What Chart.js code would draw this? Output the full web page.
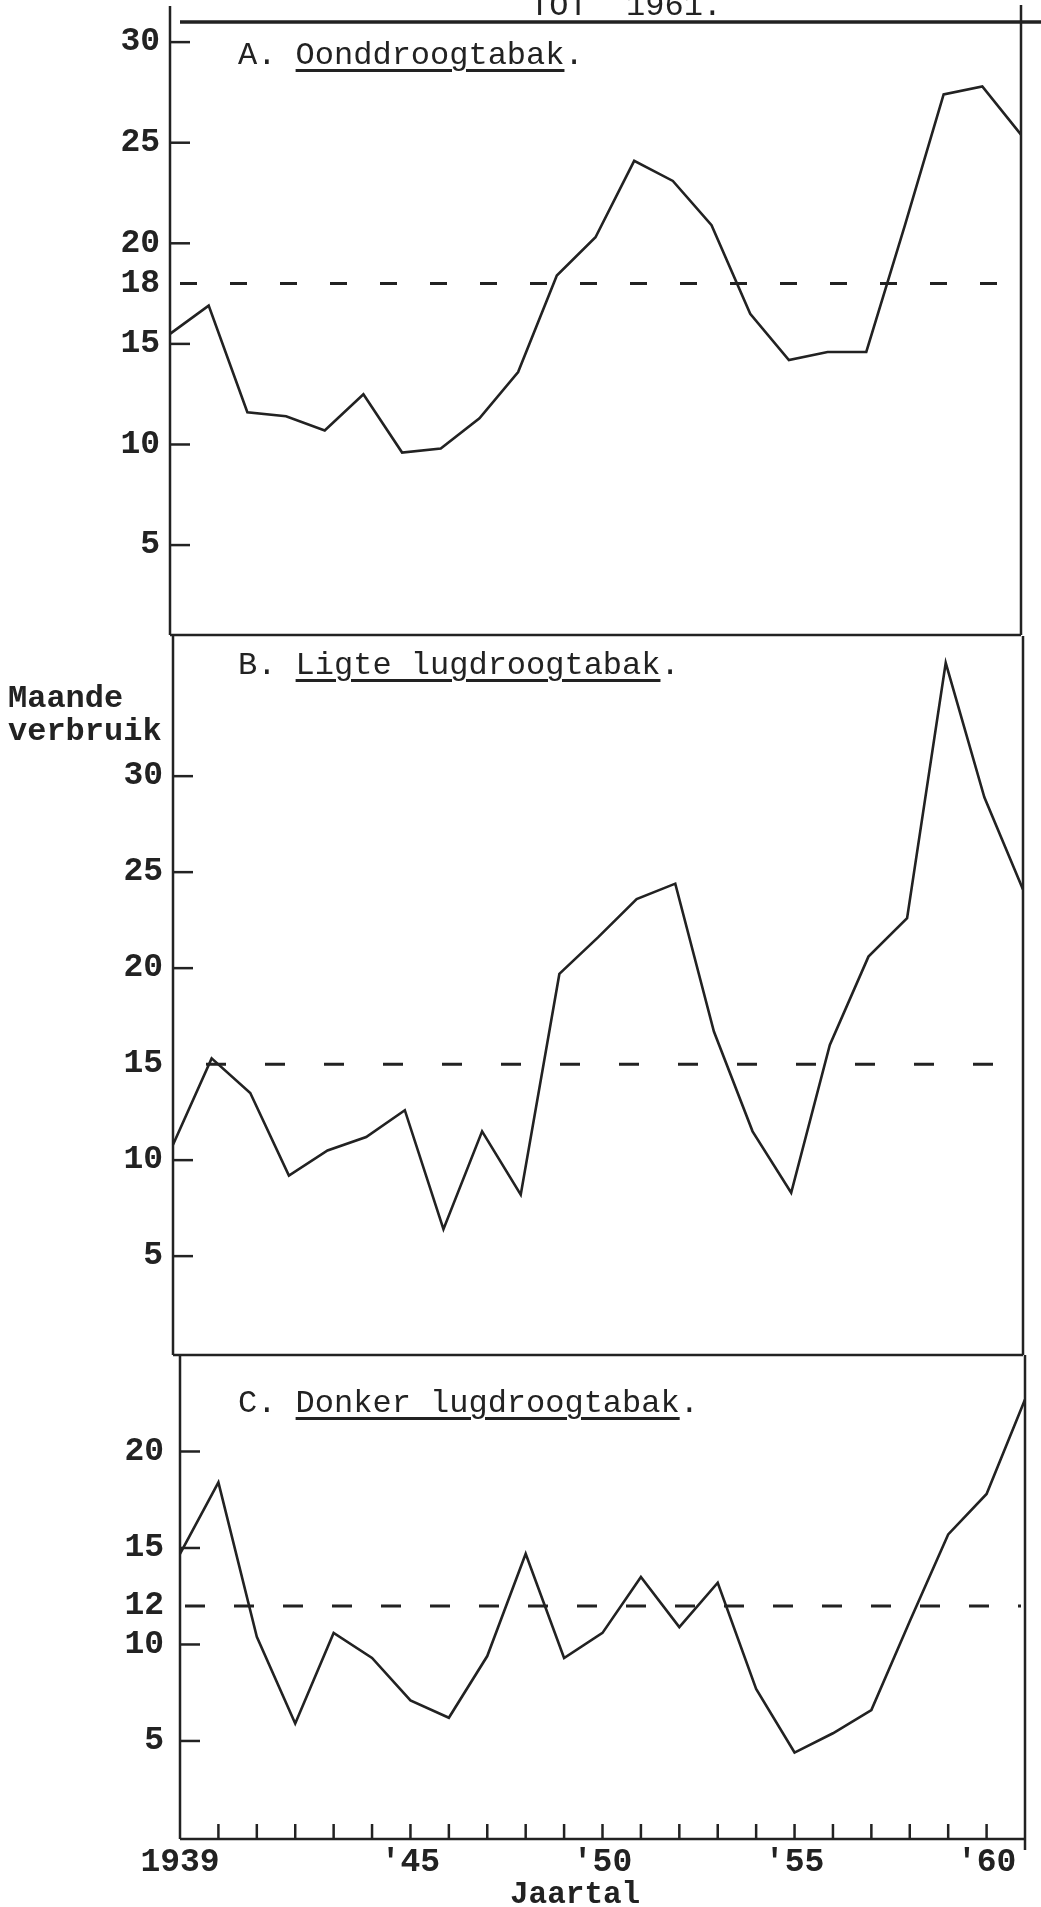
<!DOCTYPE html>
<html>
<head>
<meta charset="utf-8">
<script src="https://cdn.jsdelivr.net/npm/chart.js@4.4.1/dist/chart.umd.min.js"></script>
<style>
  html, body { margin: 0; padding: 0; background: #fff; }
  body { width: 1041px; height: 1907px; position: relative; overflow: hidden; font-family: "Liberation Mono", monospace; color: #222; }
  canvas { position: absolute; left: 0; }
  .txt { position: absolute; white-space: pre; font-size: 32px; line-height: 32px; }
  .txt u { text-decoration-thickness: 3px; text-underline-offset: 5px; }
  .bold { font-weight: bold; }
</style>
</head>
<body>
<canvas id="chartA" width="1041" height="650" style="top:0px"></canvas>
<canvas id="chartB" width="1041" height="750" style="top:620px"></canvas>
<canvas id="chartC" width="1041" height="567" style="top:1340px"></canvas>

<div class="txt" style="left:530px; top:-9px;">TOT  1961.</div>
<div class="txt" style="left:238px; top:40px;">A. <u>Oonddroogtabak</u>.</div>
<div class="txt" style="left:238px; top:650px;">B. <u>Ligte lugdroogtabak</u>.</div>
<div class="txt" style="left:238px; top:1388px;">C. <u>Donker lugdroogtabak</u>.</div>
<div class="txt bold" style="left:8px; top:682px; line-height:33px;">Maande
verbruik</div>
<div class="txt bold" style="left:510px; top:1879px; font-size:31px; line-height:31px;">Jaartal</div>

<script>
// Maandelikse verbruik per tabaksoort, 1939-1961 (afgelees van die grafiek)
const years = [1939, 1940, 1941, 1942, 1943, 1944, 1945, 1946, 1947, 1948, 1949, 1950,
               1951, 1952, 1953, 1954, 1955, 1956, 1957, 1958, 1959, 1960, 1961];

const oonddroog = [15.5, 16.9, 11.6, 11.4, 10.7, 12.5, 9.6, 9.8, 11.3, 13.6, 18.4, 20.3,
                   24.1, 23.1, 20.9, 16.5, 14.2, 14.6, 14.6, 20.9, 27.4, 27.8, 25.4];
const ligteLug = [10.8, 15.3, 13.5, 9.2, 10.5, 11.2, 12.6, 6.4, 11.5, 8.2, 19.7, 21.6,
                  23.6, 24.4, 16.7, 11.5, 8.3, 16.0, 20.6, 22.6, 35.9, 28.9, 24.1];
const donkerLug = [14.7, 18.4, 10.4, 5.9, 10.6, 9.3, 7.1, 6.2, 9.4, 14.7, 9.3, 10.6,
                   13.5, 10.9, 13.2, 7.7, 4.4, 5.4, 6.6, 11.2, 15.7, 17.8, 22.7];

// gemiddelde (stippellyn)
const gemA = 18;
const gemB = 15;
const gemC = 12;

const yTicksA = [5, 10, 15, 18, 20, 25, 30];
const yTicksB = [5, 10, 15, 20, 25, 30];
const yTicksC = [5, 10, 12, 15, 20];

const yearTickText = { 1939: "1939", 1945: "'45", 1950: "'50", 1955: "'55", 1960: "'60" };

const ink = "#222";
const tickFont = { family: "'Liberation Mono', monospace", size: 33, weight: "bold" };

function line(ctx, x1, y1, x2, y2) {
  ctx.beginPath();
  ctx.moveTo(x1, y1);
  ctx.lineTo(x2, y2);
  ctx.stroke();
}

const framePlugin = {
  id: "frame",
  beforeDatasetsDraw(chart, args, o) {
    const { ctx, scales: { y } } = chart;
    const yy = y.getPixelForValue(o.ref);
    ctx.save();
    ctx.strokeStyle = ink;
    ctx.lineWidth = 3;
    ctx.setLineDash(o.dash);
    line(ctx, o.dashFrom, yy, o.dashTo, yy);
    ctx.restore();
  },
  afterDraw(chart, args, o) {
    const { ctx, chartArea: a, scales: { x, y } } = chart;
    ctx.save();
    ctx.strokeStyle = ink;
    ctx.lineWidth = 2.5;
    line(ctx, a.left, o.leftTop, a.left, a.bottom);
    line(ctx, a.right, o.rightTop, a.right, o.rightBottom);
    line(ctx, a.left, a.bottom, a.right, a.bottom);
    y.ticks.forEach((t) => {
      if (t.value === o.ref) return;
      const p = y.getPixelForValue(t.value);
      line(ctx, a.left, p, a.left + 20, p);
    });
    if (o.xTicks) {
      for (let i = 1; i < years.length - 1; i++) {
        const px = x.getPixelForValue(i);
        line(ctx, px, a.bottom, px, a.bottom - 15);
      }
    }
    if (o.topLine) {
      ctx.lineWidth = 3.5;
      line(ctx, 180, a.top, 1041, a.top);
    }
    ctx.restore();
  },
};

function makePanel(id, values, yTicks, cfg) {
  return new Chart(document.getElementById(id), {
    type: "line",
    data: {
      labels: years,
      datasets: [{ data: values, borderColor: ink, borderWidth: 2.6, pointRadius: 0, tension: 0, fill: false }],
    },
    options: {
      responsive: false,
      animation: false,
      layout: { padding: { left: 0, right: cfg.right, top: cfg.top, bottom: cfg.bottom } },
      plugins: { legend: { display: false }, tooltip: { enabled: false }, frame: cfg.frame },
      scales: {
        x: {
          display: cfg.showX,
          grid: { display: false, drawTicks: false },
          border: { display: false },
          afterFit: (s) => {
            s.height = cfg.showX ? 60 : 0;
            s.paddingLeft = 0;
            s.paddingRight = 0;
          },
          ticks: {
            autoSkip: false, maxRotation: 0, padding: 4, color: ink, font: tickFont,
            callback: (v, i) => yearTickText[years[i]] || "",
          },
        },
        y: {
          min: cfg.min,
          max: cfg.max,
          afterFit: (s) => {
            s.width = cfg.left;
            s.paddingTop = 0;
            s.paddingBottom = 0;
          },
          afterBuildTicks: (s) => { s.ticks = yTicks.map((v) => ({ value: v })); },
          grid: { display: false, drawTicks: false },
          border: { display: false },
          ticks: { padding: cfg.labelPad, color: ink, font: tickFont, callback: (v) => String(v) },
        },
      },
    },
    plugins: [framePlugin],
  });
}

makePanel("chartA", oonddroog, yTicksA, {
  left: 170, right: 20, top: 22, bottom: 15, min: 0.53, max: 31.0, showX: false, labelPad: 10,
  frame: { ref: gemA, dash: [17, 33], dashFrom: 180, dashTo: 1019, leftTop: 6, rightTop: 5, rightBottom: 635, topLine: true, xTicks: false },
});

makePanel("chartB", ligteLug, yTicksB, {
  left: 173, right: 18, top: 16, bottom: 15, min: -0.15, max: 37.3, showX: false, labelPad: 10,
  frame: { ref: gemB, dash: [20, 39], dashFrom: 206, dashTo: 1000, leftTop: 16, rightTop: 16, rightBottom: 735, topLine: false, xTicks: false },
});

makePanel("chartC", donkerLug, yTicksC, {
  left: 180, right: 16, top: 15, bottom: 8, min: -0.08, max: 25.0, showX: true, labelPad: 16,
  frame: { ref: gemC, dash: [20, 29], dashFrom: 185, dashTo: 1021, leftTop: 15, rightTop: 15, rightBottom: 510, topLine: false, xTicks: true },
});
</script>
</body>
</html>
